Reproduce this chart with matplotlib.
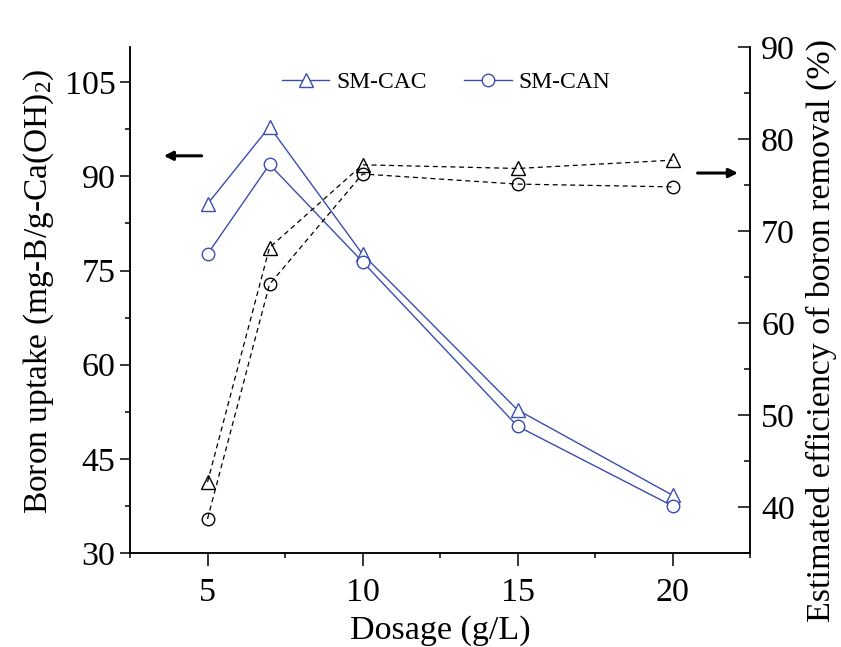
import matplotlib.pyplot as plt
from matplotlib.ticker import MultipleLocator

plt.rcParams['font.family'] = ['Liberation Serif', 'DejaVu Serif']
plt.rcParams['mathtext.fontset'] = 'custom'
plt.rcParams['mathtext.rm'] = 'Liberation Serif'
plt.rcParams['mathtext.it'] = 'Liberation Serif:italic'

# Data
dosage = [5, 7, 10, 15, 20]
uptake_cac = [85.6, 97.9, 77.6, 52.8, 39.2]
uptake_can = [77.6, 91.9, 76.4, 50.2, 37.5]
eff_cac = [42.7, 68.2, 77.2, 76.8, 77.7]
eff_can = [38.7, 64.2, 76.2, 75.1, 74.8]

blue = '#3a4db0'

fig = plt.figure(figsize=(8.41, 6.47), dpi=100)
ax = fig.add_axes([0.1546, 0.1453, 0.7372, 0.782])
ax2 = ax.twinx()

l1, = ax.plot(dosage, uptake_cac, '-^', color=blue, lw=1.0, ms=10,
              mfc='white', mec=blue, mew=1.0, label='SM-CAC')
l2, = ax.plot(dosage, uptake_can, '-o', color=blue, lw=1.0, ms=9,
              mfc='white', mec=blue, mew=1.0, label='SM-CAN')

ax2.plot(dosage, eff_cac, '--^', color='black', lw=0.9, ms=10,
         mfc='none', mec='black', mew=1.0, dashes=(4, 3))
ax2.plot(dosage, eff_can, '--o', color='black', lw=0.9, ms=9,
         mfc='none', mec='black', mew=1.0, dashes=(4, 3))

ax.set_xlim(2.5, 22.5)
ax.set_ylim(30, 110.6)
ax2.set_ylim(35, 90)

ax.xaxis.set_major_locator(MultipleLocator(5))
ax.xaxis.set_minor_locator(MultipleLocator(2.5))
ax.yaxis.set_major_locator(MultipleLocator(15))
ax.yaxis.set_minor_locator(MultipleLocator(7.5))
ax2.yaxis.set_major_locator(MultipleLocator(10))
ax2.yaxis.set_minor_locator(MultipleLocator(5))

for a in (ax, ax2):
    a.spines['top'].set_visible(False)
    for s in a.spines.values():
        s.set_linewidth(1.1)

ax.tick_params(axis='both', which='major', direction='out', length=7,
               width=1.1, labelsize=24.5, top=False, right=False)
ax.tick_params(axis='both', which='minor', direction='out', length=3.5,
               width=1.1, top=False, right=False)
ax.tick_params(axis='x', which='major', length=9, pad=9)
ax2.tick_params(axis='y', which='major', direction='in', length=9,
                width=1.1, labelsize=24.5, pad=8)
ax2.tick_params(axis='y', which='minor', direction='in', length=4.5, width=1.1)

ax.set_xlabel('Dosage (g/L)', fontsize=24.5, labelpad=5)
ax.set_ylabel(r'Boron uptake (mg-B/g-Ca(OH)$_2$)', fontsize=24)
ax.yaxis.set_label_coords(-0.12, 0.518)
ax2.set_ylabel('Estimated efficiency of boron removal (%)', fontsize=24.5)
ax2.yaxis.set_label_coords(1.09, 0.44)

ax.legend(handles=[l1, l2], loc='center', bbox_to_anchor=(0.51, 0.93),
          ncol=2, frameon=False, fontsize=17, handlelength=2.0,
          handletextpad=0.3, columnspacing=1.6)

# direction arrows
ax.annotate('', xy=(0.05, 0.785), xytext=(0.12, 0.785), xycoords='axes fraction',
            arrowprops=dict(arrowstyle='-|>', color='black', lw=2.2,
                            mutation_scale=13))
ax.annotate('', xy=(0.985, 0.751), xytext=(0.911, 0.751), xycoords='axes fraction',
            arrowprops=dict(arrowstyle='-|>', color='black', lw=2.2,
                            mutation_scale=13))

fig.savefig('out.png', dpi=100)
